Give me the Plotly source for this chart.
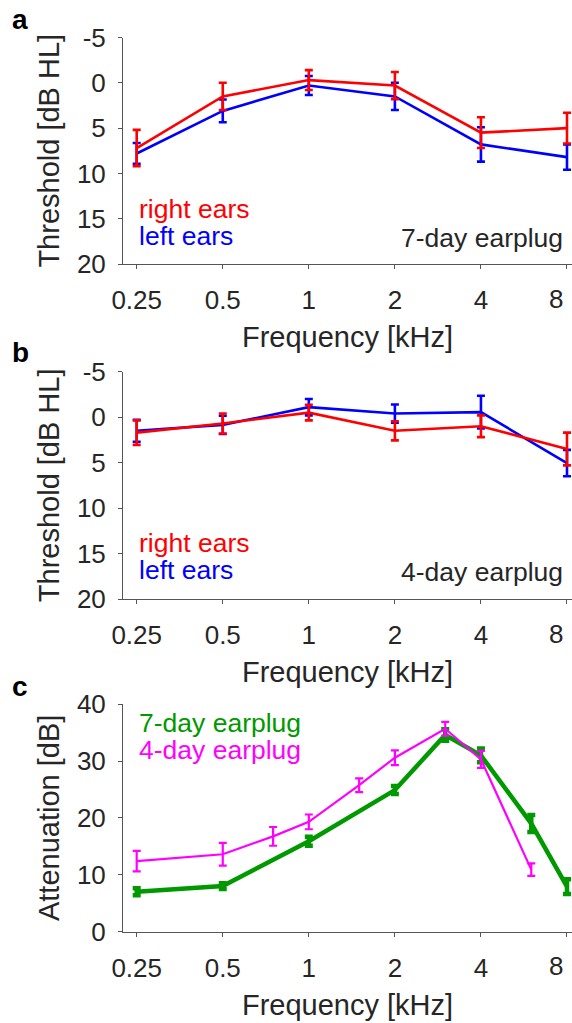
import numpy as np
import plotly.graph_objects as go

# ---- data ----
freq_ab = [0.25, 0.5, 1, 2, 4, 8]
a_right = [7.2, 1.5, -0.3, 0.3, 5.5, 5.0]
a_right_err = [2.0, 1.5, 1.1, 1.5, 1.7, 1.7]
a_left = [7.8, 3.1, 0.3, 1.5, 6.8, 8.2]
a_left_err = [1.15, 1.25, 1.05, 1.5, 1.9, 1.4]

b_right = [1.7, 0.7, -0.5, 1.5, 1.0, 3.5]
b_right_err = [1.35, 1.1, 0.85, 1.05, 1.2, 1.8]
b_left = [1.5, 0.85, -1.1, -0.4, -0.55, 5.05]
b_left_err = [1.2, 1.0, 0.9, 1.0, 1.8, 1.45]

freq_c7 = [0.25, 0.5, 1, 2, 3, 4, 6, 8]
att7 = [7.0, 8.0, 15.9, 24.9, 34.6, 31.0, 19.0, 7.9]
att7_err = [0.6, 0.5, 0.8, 0.7, 1.0, 1.2, 1.5, 1.3]
freq_c4 = [0.25, 0.5, 0.75, 1, 1.5, 2, 3, 4, 6]
att4 = [12.4, 13.6, 16.75, 19.3, 25.75, 30.6, 35.7, 30.3, 10.9]
att4_err = [1.8, 2.0, 1.65, 1.3, 1.2, 1.3, 1.2, 1.5, 1.1]

xticks = [0.25, 0.5, 1, 2, 4, 8]
xticklabels = ["0.25", "0.5", "1", "2", "4", "8"]
thr_ticks = [-5, 0, 5, 10, 15, 20]
thr_labels = ["-5", "0", "5", "10", "15", "20"]
att_ticks = [0, 10, 20, 30, 40]
att_labels = ["0", "10", "20", "30", "40"]

RED = "#FF0000"
BLUE = "#0000FF"
GREEN = "#009900"
MAG = "#FF00FF"
TXT = "#262626"
AX = "#555555"
FONT = "Arial, Liberation Sans, sans-serif"

W, H = 572, 1023

fig = go.Figure()


def add(x, y, e, color, lw, cap, ax):
    fig.add_trace(go.Scatter(
        x=x, y=y, mode="lines",
        line=dict(color=color, width=lw),
        error_y=dict(type="data", array=e, visible=True, color=color,
                     thickness=lw, width=cap),
        xaxis="x" + ax, yaxis="y" + ax, showlegend=False, hoverinfo="skip"))


add(freq_ab, a_left, a_left_err, BLUE, 2.6, 4, "")
add(freq_ab, a_right, a_right_err, RED, 2.6, 4, "")
add(freq_ab, b_left, b_left_err, BLUE, 2.6, 4, "2")
add(freq_ab, b_right, b_right_err, RED, 2.6, 4, "2")
add(freq_c7, att7, att7_err, GREEN, 4.5, 4, "3")
add(freq_c4, att4, att4_err, MAG, 2.2, 4, "3")

xr = [-0.650, 0.9206]
xdom = [123 / W, 1.0]


def ydom(top, bottom):
    return [1 - bottom / H, 1 - top / H]


TICKF = dict(family=FONT, size=26, color=TXT)
TITLEF = dict(family=FONT, size=29, color=TXT)

# last tick label ("8") is drawn as an annotation nudged inward, as in the original
shown_xticktext = xticklabels[:-1] + [""]

xaxis_common = dict(
    type="log", range=xr, domain=xdom, tickvals=xticks, ticktext=shown_xticktext,
    ticks="outside", ticklen=4, tickwidth=1, tickcolor=AX,
    showline=True, linecolor=AX, linewidth=1, showgrid=False, zeroline=False,
    tickfont=TICKF, automargin=False, ticklabelstandoff=9,
    title=dict(text="Frequency [kHz]", font=TITLEF, standoff=12),
)
yaxis_common = dict(
    ticks="outside", ticklen=4, tickwidth=1, tickcolor=AX,
    showline=True, linecolor=AX, linewidth=1, showgrid=False, zeroline=False,
    tickfont=TICKF, automargin=False, ticklabelstandoff=7,
)

fig.update_layout(
    width=W, height=H, margin=dict(l=0, r=0, t=0, b=0, autoexpand=False),
    paper_bgcolor="white", plot_bgcolor="white",
    xaxis=dict(**xaxis_common, anchor="y"),
    xaxis2=dict(**xaxis_common, anchor="y2"),
    xaxis3=dict(**xaxis_common, anchor="y3"),
    yaxis=dict(**yaxis_common, anchor="x", domain=ydom(37.5, 264), range=[20, -5],
               tickvals=thr_ticks, ticktext=thr_labels,
               title=dict(text="Threshold [dB HL]", font=TITLEF, standoff=8)),
    yaxis2=dict(**yaxis_common, anchor="x2", domain=ydom(371.7, 599), range=[20, -5],
                tickvals=thr_ticks, ticktext=thr_labels,
                title=dict(text="Threshold [dB HL]", font=TITLEF, standoff=8)),
    yaxis3=dict(**yaxis_common, anchor="x3", domain=ydom(704.3, 931.5), range=[0, 40],
                tickvals=att_ticks, ticktext=att_labels,
                title=dict(text="Attenuation [dB]", font=TITLEF, standoff=8)),
)

ann = []


def txt(x, y, s, color, xanchor="left", size=26.5, bold=False):
    ann.append(dict(x=x, y=y, xref="paper", yref="paper", text=("<b>%s</b>" % s) if bold else s,
                    showarrow=False, xanchor=xanchor, yanchor="middle",
                    font=dict(family=FONT, size=size, color=color)))


for off in (0, 334):
    txt(137 / W, 1 - (209 + off) / H, "right ears", RED)
    txt(137 / W, 1 - (236 + off) / H, "left ears", BLUE)
txt(565 / W, 1 - 237.7 / H, "7-day earplug", TXT, xanchor="right")
txt(565 / W, 1 - (237.7 + 334) / H, "4-day earplug", TXT, xanchor="right")
txt(137 / W, 1 - 723 / H, "7-day earplug", GREEN)
txt(137 / W, 1 - 750 / H, "4-day earplug", MAG)
txt(10 / W, 1 - 20 / H, "a", "#000000", size=28, bold=True)
txt(10 / W, 1 - 352 / H, "b", "#000000", size=28, bold=True)
txt(10 / W, 1 - 686 / H, "c", "#000000", size=28, bold=True)

for xa, ya in (("x", "y"), ("x2", "y2"), ("x3", "y3")):
    ann.append(dict(x=np.log10(xticks[-1]), y=0, xref=xa, yref=ya + " domain",
                    text=xticklabels[-1], showarrow=False, xanchor="center", yanchor="middle",
                    xshift=-11, yshift=-35, font=TICKF))

fig.update_layout(annotations=ann)

fig.write_html("out.html")
